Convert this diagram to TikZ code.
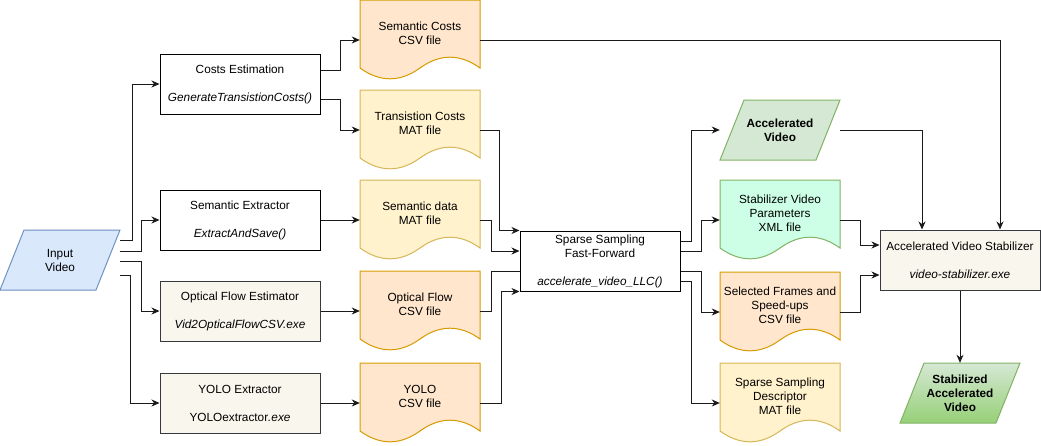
\documentclass[tikz,border=0pt]{standalone}
\usepackage{fontspec}
\setmainfont{Liberation Sans}
\usetikzlibrary{arrows.meta,calc}
\definecolor{corange}{HTML}{FFE6CC}\definecolor{sorange}{HTML}{D79B00}
\definecolor{cyellow}{HTML}{FFF2CC}\definecolor{syellow}{HTML}{D6B656}
\definecolor{cmint}{HTML}{CCFFE6}\definecolor{sgreen}{HTML}{82B366}
\definecolor{cgreen}{HTML}{D5E8D4}\definecolor{cgreendark}{HTML}{97D077}
\definecolor{cblue}{HTML}{DAE8FC}\definecolor{sblue}{HTML}{6C8EBF}
\definecolor{cbeige}{HTML}{F9F7ED}\definecolor{sgray}{HTML}{36393D}
\definecolor{lineclr}{HTML}{1A1A1A}
\tikzset{
  txt/.style={font=\fontsize{11.8pt}{14pt}\selectfont, align=center, inner sep=0pt, text=black},
  proc/.style={txt, draw=black, fill=white, line width=1pt, minimum width=160pt, minimum height=60pt},
  procb/.style={proc, draw=sgray, fill=cbeige},
  holder/.style={inner sep=0pt, minimum width=120pt, minimum height=#1},
  arr/.style={-{Stealth[length=8pt,width=7pt,inset=2.5pt]}, line width=1pt, draw=lineclr},
  ln/.style={line width=1pt, draw=lineclr},
}
% document shape: name, x, y, style, text
\newcommand{\docshape}[5]{%
  \begin{scope}[shift={(#2,#3)}]
    \path[#4, line width=1pt] (0,0) -- (120,0) -- (120,68)
      .. controls (100,53.6) and (80,53.6) .. (60,68)
      .. controls (40,82.4) and (20,82.4) .. (0,68) -- cycle;
    \node[holder=80pt] (#1) at (60,40) {};
    \node[txt] (#1-t) at (60,33.5) {#5};
  \end{scope}}
% parallelogram: name, x, y, style, text
\newcommand{\paragram}[5]{%
  \begin{scope}[shift={(#2,#3)}]
    \path[#4, line width=1pt] (24,0) -- (120,0) -- (96,60) -- (0,60) -- cycle;
    \node[holder=60pt] (#1) at (60,30) {};
    \node[txt] (#1-t) at (60,30.5) {#5};
  \end{scope}}
\begin{document}
\begin{tikzpicture}[x=1pt,y=-1pt]
\useasboundingbox (0,0) rectangle (1041,445);

% inputs
\paragram{invid}{0}{230}{fill=cblue,draw=sblue}{Input\\Video}

% processes
\node[proc]  (costs) at (240,84)  {Costs Estimation\\[14pt]\textit{GenerateTransistionCosts()}};
\node[proc]  (semex) at (240,220) {Semantic Extractor\\[14pt]\textit{ExtractAndSave()}};
\node[procb] (ofe)   at (240,311) {Optical Flow Estimator\\[14pt]\textit{Vid2OpticalFlowCSV.exe}};
\node[procb] (yex)   at (240,403) {YOLO Extractor\\[14pt]YOLOextractor\textit{.exe}};

% intermediate files
\docshape{sc}{360}{0}{fill=corange,draw=sorange}{Semantic Costs\\CSV file}
\docshape{tc}{360}{90}{fill=cyellow,draw=syellow}{Transistion Costs\\MAT file}
\docshape{sd}{360}{180}{fill=cyellow,draw=syellow}{Semantic data\\MAT file}
\docshape{of}{360}{271}{fill=corange,draw=sorange}{Optical Flow\\CSV file}
\docshape{yc}{360}{363}{fill=corange,draw=sorange}{YOLO\\CSV file}

% sparse sampling
\node[proc] (sparse) at (600,261) {Sparse Sampling\\Fast-Forward\\[14pt]\textit{accelerate\_video\_LLC()}};

% outputs
\paragram{acc}{720}{100}{fill=cgreen,draw=sgreen}{\textbf{Accelerated}\\\textbf{Video}}
\docshape{svp}{720}{180}{fill=cmint,draw=sgreen}{Stabilizer Video\\Parameters\\XML file}
\docshape{sf}{720}{272}{fill=corange,draw=sorange}{Selected Frames and\\Speed-ups\\CSV file}
\docshape{ssd}{720}{363}{fill=cyellow,draw=syellow}{Sparse Sampling\\Descriptor\\MAT file}

% stabilizer
\node[procb] (stab) at (960,260) {Accelerated Video Stabilizer\\[14pt]\textit{video-stabilizer.exe}};
\paragram{sav}{900}{363}{draw=sgreen,top color=cgreen,bottom color=cgreendark}{\textbf{Stabilized}\\\textbf{Accelerated}\\\textbf{Video}}

% connectors: input video
\draw[arr] (invid.east |- 0,240) -- (132,240) |- (costs);
\draw[arr] (invid.east |- 0,251) -- (141,251) |- (semex);
\draw[arr] (invid.east |- 0,261) -- (141,261) |- (ofe);
\draw[arr] (invid.east |- 0,275) -- (130,275) |- (yex);

% processes to files
\draw[arr] (costs.east |- 0,70) -- (340,70) |- (sc);
\draw[arr] (costs.east |- 0,99) -- (340,99) |- (tc);
\draw[arr] (semex) -- (sd);
\draw[arr] (ofe) -- (of);
\draw[arr] (yex) -- (yc);

% files to sparse sampling
\draw[arr] (tc.east) -- (499,130) |- (sparse.north west);
\draw[arr] (sd.east) -- (491,220) |- ([yshift=10pt]sparse.west);
\draw[ln]  (of.east) -- (491,311) |- ([yshift=-10pt]sparse.west);
\draw[arr] (yc.east) -- (501,403) |- (sparse.south west);

% sparse sampling to outputs
\draw[arr] ([yshift=20pt]sparse.east) -- (691,241) |- (acc);
\draw[arr] ([yshift=10pt]sparse.east) -- (701,251) |- (svp);
\draw[arr] ([yshift=-10pt]sparse.east) -- (701,271) |- (sf);
\draw[arr] ([yshift=-20pt]sparse.east) -- (691,281) |- (ssd);

% to stabilizer
\draw[arr] (sc.east) -| ([xshift=40pt]stab.north);
\draw[arr] (acc.east) -| ([xshift=-38pt]stab.north);
\draw[arr] (svp.east) -- (860,220) |- ([yshift=15pt]stab.west);
\draw[arr] (sf.east) -- (860,312) |- ([yshift=-15pt]stab.west);
\draw[arr] (stab) -- (sav);
\end{tikzpicture}
\end{document}
